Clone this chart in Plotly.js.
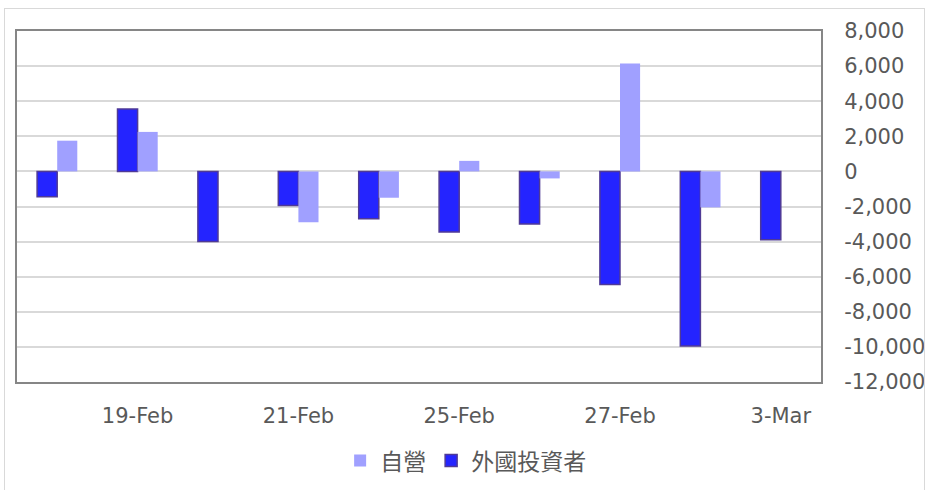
<!DOCTYPE html>
<html>
<head>
<meta charset="utf-8">
<script src="https://cdn.plot.ly/plotly-3.0.1.min.js"></script>
<style>
  html, body { margin: 0; padding: 0; background: #fff; }
  #wrap { position: relative; width: 928px; height: 490px; }
  #chart { width: 928px; height: 490px; }
  #frame { position: absolute; left: 4px; top: 8px; width: 921px; height: 490px; border: 1px solid #d9d9d9; pointer-events: none; box-sizing: border-box; }
</style>
</head>
<body>
<div id="wrap">
  <div id="chart"></div>
  <div id="frame"></div>
</div>
<script>
const dates = ['18-Feb','19-Feb','20-Feb','21-Feb','24-Feb','25-Feb','26-Feb','27-Feb','28-Feb','3-Mar'];
const foreignInvestors = [-1450, 3550, -4000, -1950, -2700, -3450, -3000, -6450, -9950, -3900];
const dealers = [1750, 2250, 0, -2900, -1500, 600, -400, 6150, -2050, 0];
const xTickLabels = ['19-Feb','21-Feb','25-Feb','27-Feb','3-Mar'];
const yTickVals = [8000, 6000, 4000, 2000, 0, -2000, -4000, -6000, -8000, -10000, -12000];
const yTickText = ['8,000','6,000','4,000','2,000','0','-2,000','-4,000','-6,000','-8,000','-10,000','-12,000'];

const traces = [
  {
    type: 'bar', name: '外國投資者', x: dates, y: foreignInvestors,
    marker: { color: '#2424ff', line: { color: '#4f3a96', width: 1.5 } }
  },
  {
    type: 'bar', name: '自營', x: dates, y: dealers,
    marker: { color: '#a0a0ff', line: { width: 0 } }
  }
];

const layout = {
  width: 928, height: 490,
  margin: { l: 17, r: 107, t: 31, b: 108, autoexpand: false },
  paper_bgcolor: 'rgba(0,0,0,0)', plot_bgcolor: '#ffffff',
  barmode: 'group', bargap: 0.5, bargroupgap: 0,
  font: { family: '"DejaVu Sans", sans-serif', size: 21, color: '#595959' },
  showlegend: true,
  legend: {
    orientation: 'h', x: 0.558, xanchor: 'center',
    yref: 'container', y: 0.06, yanchor: 'middle',
    traceorder: 'reversed', itemwidth: 30,
    font: { family: '"Noto Sans CJK TC", "DejaVu Sans", sans-serif', size: 23, color: '#595959' }
  },
  xaxis: {
    type: 'category', tickvals: xTickLabels, ticktext: xTickLabels,
    showgrid: false, zeroline: false,
    showline: true, linecolor: '#868686', linewidth: 2, mirror: true,
    ticks: '', ticklabelstandoff: 14
  },
  yaxis: {
    side: 'right', range: [-12000, 8000],
    tickvals: yTickVals, ticktext: yTickText,
    showgrid: true, gridcolor: '#d9d9d9', gridwidth: 2,
    zeroline: true, zerolinecolor: '#d9d9d9', zerolinewidth: 2,
    showline: true, linecolor: '#868686', linewidth: 2, mirror: true,
    ticks: '', ticklabelstandoff: 17
  }
};

Plotly.newPlot('chart', traces, layout, { displayModeBar: false, staticPlot: true });
</script>
</body>
</html>
